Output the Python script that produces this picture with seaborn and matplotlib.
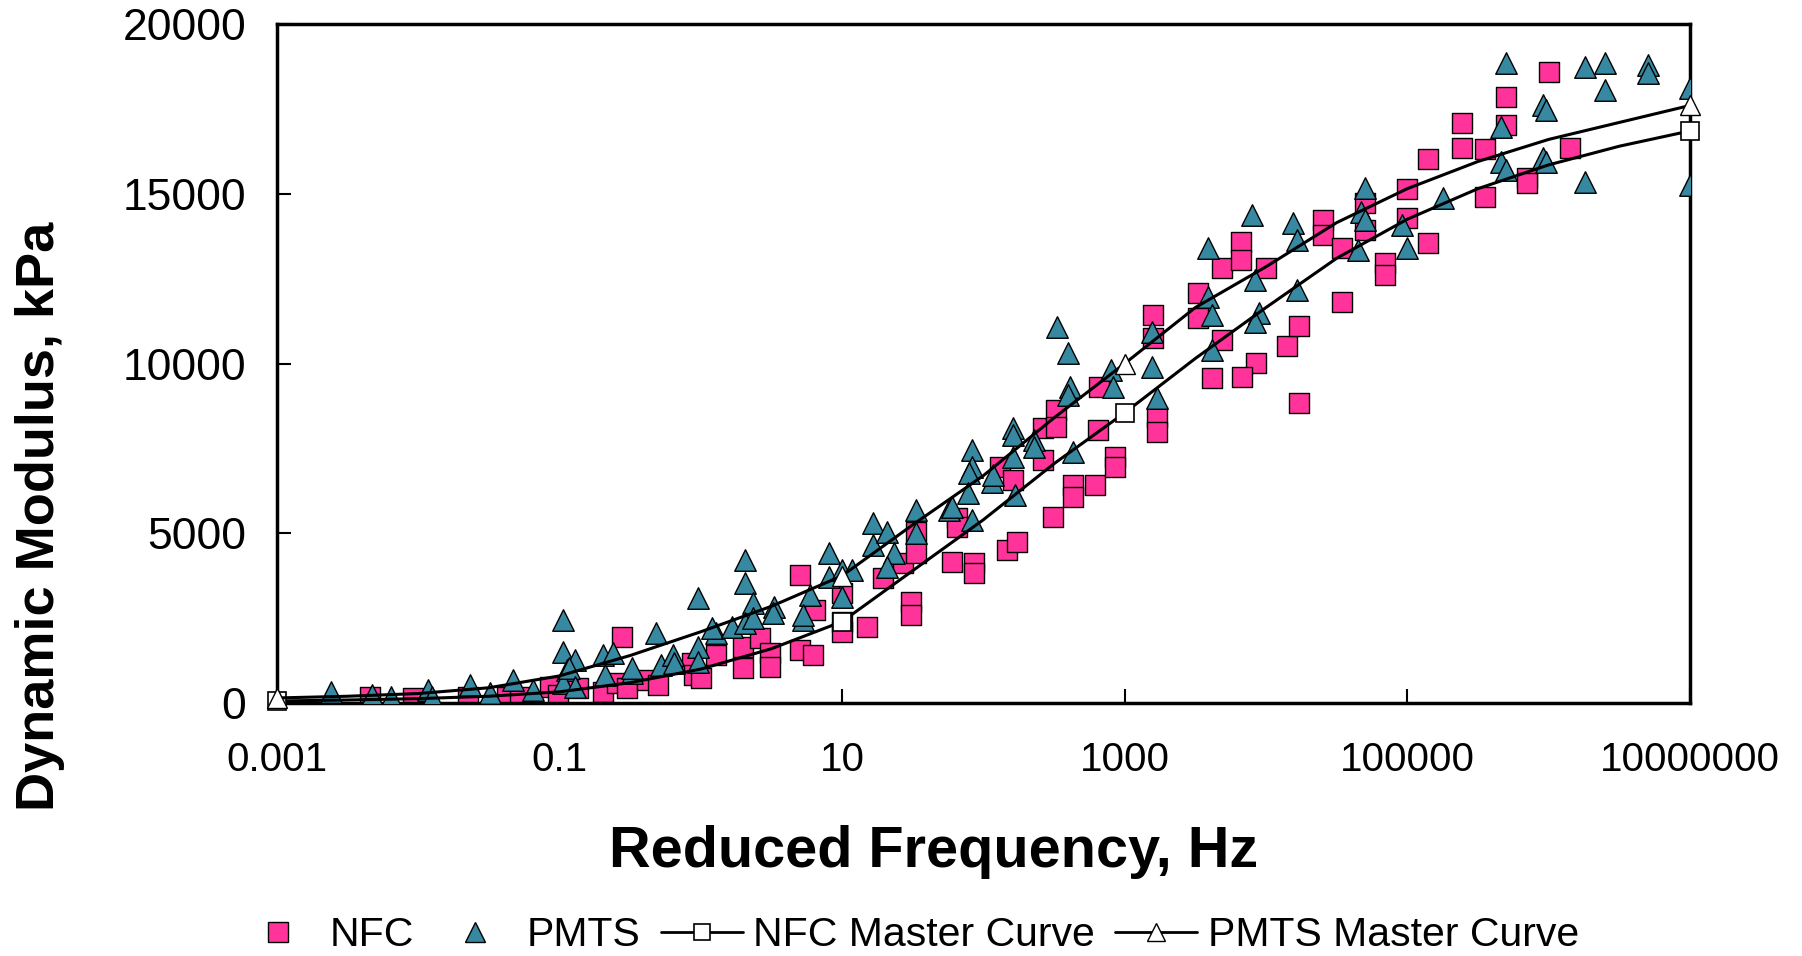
import matplotlib
matplotlib.use('Agg')
import matplotlib.pyplot as plt
from matplotlib.lines import Line2D
from matplotlib.ticker import NullLocator
import seaborn as sns

nfc_freq = [0.00457, 0.00912, 0.0224, 0.0427, 0.0525, 0.0851, 0.0977, 0.135, 0.204, 0.257,
            0.302, 0.275, 0.417, 0.501, 0.871, 0.891, 1.0, 1.29, 2.0, 2.0,
            2.63, 3.09, 3.09, 5.01, 6.46, 5.01, 6.17, 10, 10, 10,
            15.1, 19.5, 26.9, 33.1, 33.1, 30.9, 30.9, 60.3, 85.1, 85.1,
            64.6, 64.6, 132, 162, 148, 174, 263, 324, 324, 263,
            309, 427, 427, 617, 646, 661, 851, 851, 1580, 1580,
            3310, 3310, 4900, 6610, 6610, 10000, 4900, 4170, 8510, 6760,
            14100, 17000, 17000, 1700, 1700, 1000000, 501000, 501000, 245000, 245000,
            355000, 141000, 1410000, 708000, 708000, 100000, 25100, 25100, 50100, 50100,
            34700, 100000, 141000, 355000, 69200, 69200, 34700]
nfc_modulus = [180, 150, 180, 180, 180, 470, 240, 440, 320, 590,
               440, 1940, 680, 530, 1180, 825, 740, 1410, 1650, 1030,
               1910, 1470, 1060, 3770, 2740, 1560, 1410, 2390, 2090, 3240,
               2240, 3680, 4120, 4420, 5040, 2980, 2590, 4150, 4120, 3830,
               5450, 5180, 6950, 6570, 4510, 4740, 8100, 8630, 8130, 7160,
               5480, 6420, 6070, 6420, 8040, 9310, 7250, 6950, 11430, 10750,
               12080, 11340, 12810, 13580, 13050, 12810, 10690, 9570, 10015, 9600,
               10520, 11100, 8840, 8420, 7980, 18590, 17850, 17030, 17080, 16350,
               16320, 16020, 16350, 15460, 15320, 15140, 14230, 13790, 14730, 13930,
               13400, 14290, 13550, 14900, 12960, 12610, 11810]

pmts_freq = [0.0024, 0.00468, 0.00646, 0.0117, 0.0126, 0.0234, 0.0324, 0.0468, 0.0646, 0.105,
             0.105, 0.112, 0.105, 0.129, 0.117, 0.129, 0.204, 0.240, 0.209, 0.324,
             0.324, 0.479, 0.525, 0.631, 0.646, 0.955, 0.955, 0.955, 1.29, 1.20,
             1.66, 2.04, 2.04, 2.34, 2.04, 2.34, 3.31, 3.24, 5.25, 5.89,
             5.25, 8.13, 8.13, 10, 10, 11.7, 16.6, 16.6, 20.9, 23.4,
             20.9, 33.1, 33.1, 57.5, 60.3, 83.2, 83.2, 79.4, 77.6, 83.2,
             115, 117, 162, 162, 162, 166, 229, 229, 407, 398,
             427, 794, 832, 331, 398, 1550, 1550, 1700, 3890, 3890,
             4170, 4170, 7940, 8320, 8910, 8320, 15500, 16600, 16600, 501000,
             1820000, 2510000, 5010000, 5010000, 2510000, 10000000, 10000000, 912000, 955000, 457000,
             457000, 501000, 912000, 955000, 1820000, 178000, 100000, 91200, 50100, 46800,
             50100, 44700]
pmts_modulus = [320, 240, 180, 380, 180, 530, 300, 680, 380, 2450,
                1500, 970, 590, 1270, 1030, 470, 1410, 1470, 825, 880,
                1030, 2060, 1120, 1410, 1180, 3090, 1650, 1210, 2060, 2210,
                2240, 4210, 3540, 2950, 2360, 2500, 2830, 2650, 2450, 3180,
                2590, 4420, 3710, 3920, 3120, 3920, 5300, 4650, 5040, 4420,
                4010, 5690, 5010, 5690, 5770, 7450, 6950, 6780, 6190, 5390,
                6510, 6720, 8100, 7890, 7250, 6130, 7750, 7540, 9310, 9070,
                7390, 9810, 9310, 11075, 10310, 10930, 9900, 8980, 13400, 11960,
                11430, 10400, 14370, 12460, 11490, 11220, 14140, 13640, 12170, 18850,
                18730, 18850, 18790, 18560, 18060, 18120, 15260, 17610, 17470, 16970,
                15940, 15700, 16050, 15940, 15350, 14880, 13400, 14080, 15170, 14460,
                14230, 13340]

# Master curves
master_freq = [0.001, 0.00316, 0.01, 0.0316, 0.1, 0.316, 1, 3.16, 10, 31.6,
               100, 316, 1000, 3162, 10000, 31623, 100000, 316228, 1000000, 3162278,
               10000000]
nfc_master = [60, 90, 130, 200, 330, 600, 1000, 1600, 2400, 3900,
              5400, 7050, 8550, 10150, 11650, 13100, 14250, 15150, 15850, 16400,
              16850]
pmts_master = [150, 200, 280, 450, 800, 1400, 2100, 2850, 3750, 5250,
               6700, 8400, 10000, 11650, 12850, 14150, 15150, 15950, 16600, 17100,
               17600]
master_marker_idx = [0, 8, 12, 20]

x_ticks = [0.001, 0.1, 10, 1000, 100000, 10000000]
x_tick_labels = ['0.001', '0.1', '10', '1000', '100000', '10000000']
y_ticks = [0, 5000, 10000, 15000, 20000]

pink = '#FF3399'
teal = '#3789A2'

sns.set_style('white')
plt.rcParams['font.family'] = ['Liberation Sans', 'DejaVu Sans']
plt.rcParams['text.color'] = 'black'
plt.rcParams['axes.labelcolor'] = 'black'
plt.rcParams['xtick.color'] = 'black'
plt.rcParams['ytick.color'] = 'black'

fig = plt.figure(figsize=(18.02, 9.56), dpi=100)
ax = fig.add_axes([0.1537, 0.2646, 0.7841, 0.7103])

sns.scatterplot(x=nfc_freq, y=nfc_modulus, marker='s', s=215, color=pink,
                edgecolor='black', linewidth=1.0, ax=ax, zorder=2)
sns.scatterplot(x=pmts_freq, y=pmts_modulus, marker='^', s=240, color=teal,
                edgecolor='black', linewidth=1.0, ax=ax, zorder=3)
sns.lineplot(x=master_freq, y=nfc_master, color='black', lw=2.2, marker='s', ms=13,
             mfc='white', mec='black', mew=1.2, markevery=master_marker_idx,
             ax=ax, zorder=4, clip_on=False)
sns.lineplot(x=master_freq, y=pmts_master, color='black', lw=2.2, marker='^', ms=14,
             mfc='white', mec='black', mew=1.0, markevery=master_marker_idx,
             ax=ax, zorder=4, clip_on=False)
if ax.get_legend() is not None:
    ax.get_legend().remove()

ax.set_xscale('log')
ax.set_xlim(0.001, 10000000)
ax.set_ylim(0, 20000)
ax.set_xticks(x_ticks)
ax.set_xticklabels(x_tick_labels)
ax.xaxis.set_minor_locator(NullLocator())
ax.set_yticks(y_ticks)
ax.set_xlabel('')
ax.set_ylabel('')
ax.tick_params(direction='in', length=10, width=1.5, colors='black',
               bottom=True, left=True, top=False, right=False)
ax.tick_params(axis='x', pad=27, labelsize=29)
ax.tick_params(axis='y', pad=22, labelsize=32)
for sp in ax.spines.values():
    sp.set_linewidth(2.5)
    sp.set_color('black')

fig.text(0.022, 0.46, 'Dynamic Modulus, kPa', rotation=90, ha='center', va='center',
         fontsize=39, fontweight='bold', color='black')
fig.text(0.518, 0.109, 'Reduced Frequency, Hz', ha='center', va='center',
         fontsize=41.5, fontweight='bold', color='black')

handles = [
    Line2D([], [], ls='none', marker='s', ms=14, mfc=pink, mec='black', mew=1),
    Line2D([], [], ls='none', marker='^', ms=15, mfc=teal, mec='black', mew=1),
    Line2D([], [], color='black', lw=2, marker='s', ms=12, mfc='white', mec='black', mew=1.2),
    Line2D([], [], color='black', lw=2, marker='^', ms=13, mfc='white', mec='black', mew=1.0),
]
labels = ['NFC', 'PMTS', 'NFC Master Curve', 'PMTS Master Curve']
fig.legend(handles, labels, loc='center', bbox_to_anchor=(0.504, 0.022), ncol=4,
           frameon=False, fontsize=29.5, handlelength=2.0, handletextpad=0.25,
           columnspacing=0.5, borderpad=0)

fig.savefig('out.png', dpi=100)
